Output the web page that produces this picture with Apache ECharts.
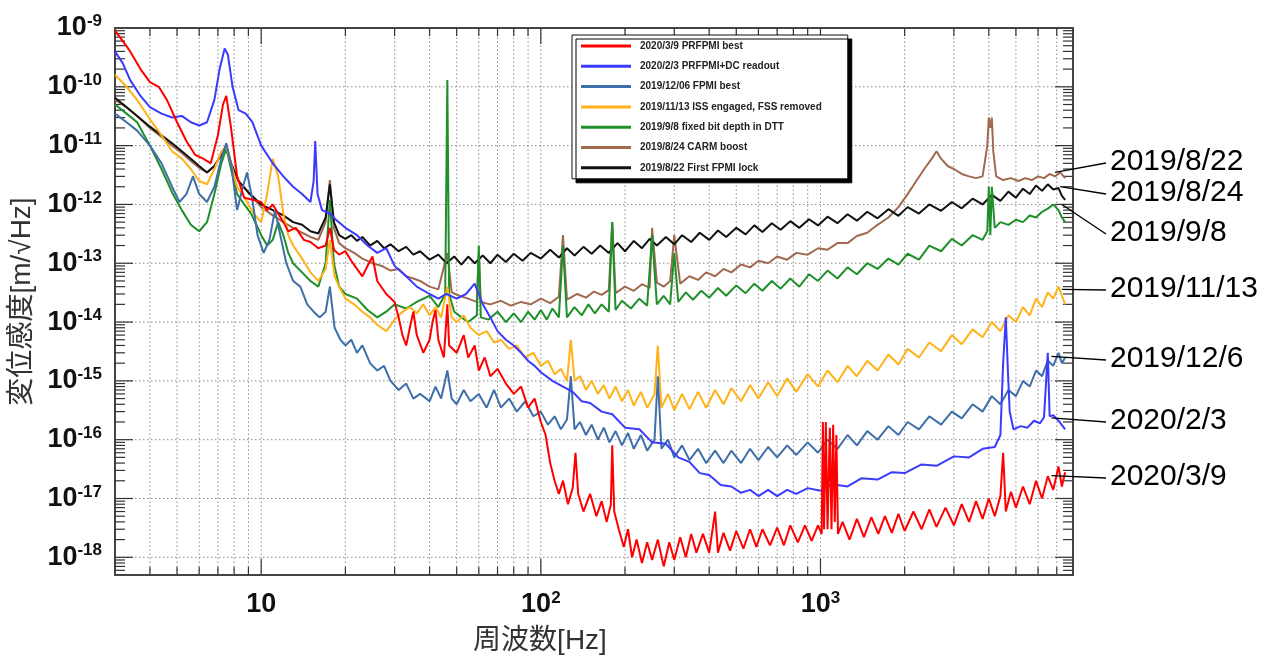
<!DOCTYPE html>
<html><head><meta charset="utf-8">
<script src="https://cdn.jsdelivr.net/npm/echarts@6/dist/echarts.min.js"></script>
<style>html,body{margin:0;padding:0;background:#fff}#c{width:1264px;height:660px}</style>
</head><body><div id="c"></div>
<script>
// ---- series names / colours ----
const seriesNames = ['2020/3/9 PRFPMI best','2020/2/3 PRFPMI+DC readout','2019/12/06 FPMI best','2019/11/13 ISS engaged, FSS removed','2019/9/8 fixed bit depth in DTT','2019/8/24 CARM boost','2019/8/22 First FPMI lock'];
const seriesColors = ['#ff0000','#3b3bff','#3f6fa8','#ffb21a','#1f8f2a','#a06a50','#111111'];

// ---- data: [frequency Hz, displacement m/rtHz] ----
const red = [[3,9e-10],[3.2,6e-10],[3.4,4e-10],[3.7,2e-10],[4,1.2e-10],[4.3,1e-10],[4.6,6e-11],[5,2.5e-11],[5.4,1.2e-11],[5.8,7e-12],[6.2,6e-12],[6.6,5e-12],[7,1.5e-11],[7.3,5e-11],[7.5,7e-11],[7.8,2e-11],[8.2,3e-12],[8.7,1.3e-12],[9.3,1.2e-12],[10,1.1e-12],[10.5,8e-13],[11,1e-12],[11.5,7e-13],[12,5e-13],[12.5,3.5e-13],[13.3,4e-13],[14.2,2.5e-13],[15,2.3e-13],[16,1.8e-13],[17,2e-13],[17.6,4e-13],[18.2,1.7e-13],[19,1.4e-13],[20,1.6e-13],[21,1.1e-13],[22,8e-14],[23,6e-14],[24,9e-14],[25,1.3e-13],[26,5e-14],[28,3e-14],[30,2.2e-14],[31,1.2e-14],[32,6e-15],[33,4e-15],[34,8e-15],[35,1.5e-14],[36,6e-15],[38,3e-15],[40,5e-15],[41,1e-14],[42,1.6e-14],[43,5e-15],[45,2.5e-15],[46.3,2e-14],[47,4e-15],[50,3e-15],[53,6e-15],[55,2.5e-15],[58,4e-15],[60,1.5e-15],[63,2.5e-15],[66,1.2e-15],[70,1.6e-15],[75,9e-16],[80,6e-16],[85,8e-16],[90,3.5e-16],[95,5e-16],[100,2e-16],[104,1.2e-16],[108,4e-17],[112,2e-17],[116,1.2e-17],[120,2e-17],[125,8e-18],[130,1.5e-17],[133,6e-17],[136,1.2e-17],[142,6e-18],[150,1.2e-17],[158,5e-18],[165,9e-18],[172,4e-18],[178,8e-18],[180,8e-17],[183,6e-18],[190,3e-18],[198,1.5e-18],[205,3e-18],[212,1e-18],[220,2e-18],[230,8e-19],[240,1.8e-18],[250,9e-19],[262,2e-18],[275,7e-19],[288,1.8e-18],[300,9e-19],[315,2.2e-18],[330,1e-18],[345,2.5e-18],[360,1.2e-18],[380,2.5e-18],[400,1.2e-18],[420,6e-18],[430,1.2e-18],[450,2.6e-18],[475,1.3e-18],[500,2.8e-18],[530,1.4e-18],[560,3e-18],[590,1.5e-18],[620,3e-18],[660,1.6e-18],[700,3.2e-18],[740,1.6e-18],[780,3.5e-18],[830,1.8e-18],[880,3.5e-18],[930,1.9e-18],[980,3.5e-18],[1010,2.5e-18],[1020,2e-16],[1030,3e-18],[1045,2e-16],[1060,3e-18],[1080,1.6e-16],[1095,3e-18],[1110,1.8e-16],[1125,4e-18],[1140,1.2e-16],[1155,2.5e-18],[1200,4e-18],[1270,2e-18],[1350,4.5e-18],[1430,2.2e-18],[1520,4.8e-18],[1610,2.5e-18],[1700,5e-18],[1800,2.6e-18],[1900,5.5e-18],[2000,2.8e-18],[2150,6e-18],[2300,3e-18],[2450,6.5e-18],[2600,3.3e-18],[2800,7e-18],[3000,3.5e-18],[3200,8e-18],[3400,4e-18],[3600,9e-18],[3800,4.5e-18],[4000,1e-17],[4200,5e-18],[4400,1.1e-17],[4500,6e-17],[4600,6e-18],[4800,1.3e-17],[5000,7e-18],[5300,1.6e-17],[5600,8e-18],[5900,2e-17],[6200,1e-17],[6500,2.4e-17],[6800,1.4e-17],[7100,3.5e-17],[7300,1.6e-17],[7500,2.8e-17]];

const blue = [[3,4e-10],[3.2,2.5e-10],[3.4,1.3e-10],[3.7,7e-11],[4,4.5e-11],[4.4,3.5e-11],[4.8,3e-11],[5.2,3.2e-11],[5.6,2.5e-11],[6,2.2e-11],[6.4,2.5e-11],[6.8,6e-11],[7.1,2e-10],[7.4,4.5e-10],[7.6,3.5e-10],[7.9,1e-10],[8.3,4e-11],[8.8,3.5e-11],[9.3,2.5e-11],[10,1e-11],[11,5e-12],[12,3e-12],[13,2e-12],[14,1.5e-12],[15,1.1e-12],[15.4,2.5e-12],[15.6,1.2e-11],[15.9,1.5e-12],[16.5,8e-13],[17.6,7e-13],[18.5,5.5e-13],[20,4e-13],[22,3e-13],[24,2e-13],[26,1.5e-13],[28,1.8e-13],[30,9e-14],[33,6e-14],[36,4e-14],[40,3e-14],[43,2.5e-14],[46,3e-14],[50,2.5e-14],[54,3e-14],[58,4.5e-14],[62,2e-14],[66,1.2e-14],[70,7e-15],[75,5e-15],[80,4e-15],[85,3e-15],[90,2.2e-15],[95,1.8e-15],[100,1.4e-15],[110,1e-15],[120,8e-16],[130,6.5e-16],[140,4.5e-16],[150,4.2e-16],[165,3e-16],[180,2.7e-16],[200,1.6e-16],[225,1.5e-16],[250,9e-17],[280,8.5e-17],[310,5e-17],[340,4.2e-17],[370,2.7e-17],[400,2.5e-17],[440,1.7e-17],[480,1.6e-17],[520,1.25e-17],[560,1.4e-17],[600,1.1e-17],[650,1.4e-17],[700,1.1e-17],[760,1.4e-17],[820,1.2e-17],[900,1.5e-17],[1000,1.35e-17],[1100,1.75e-17],[1250,1.6e-17],[1400,2.2e-17],[1600,2.1e-17],[1800,2.8e-17],[2000,2.7e-17],[2300,3.8e-17],[2600,3.6e-17],[3000,5.2e-17],[3400,5e-17],[3800,7e-17],[4200,7.5e-17],[4400,1.2e-16],[4500,2e-15],[4600,1.2e-14],[4680,1.5e-15],[4750,3e-16],[4900,1.5e-16],[5200,1.7e-16],[5500,1.6e-16],[5800,2.1e-16],[6100,1.9e-16],[6300,2.4e-16],[6500,3e-15],[6600,2.5e-16],[6800,2.6e-16],[7100,2.1e-16],[7500,1.5e-16]];

const steel = [[3,3.5e-11],[3.3,2.5e-11],[3.6,1.8e-11],[4,1e-11],[4.4,5e-12],[4.8,2e-12],[5.1,1.1e-12],[5.4,1.5e-12],[5.7,3e-12],[6,1.5e-12],[6.4,1.1e-12],[6.8,2e-12],[7.2,6e-12],[7.5,1.1e-11],[7.8,5e-12],[8.2,8e-13],[8.6,2e-12],[8.9,3.5e-12],[9.3,1.2e-12],[9.7,3e-13],[10.2,1.5e-13],[10.7,2.5e-13],[11.2,8e-13],[11.7,3e-13],[12.3,1e-13],[13,5e-14],[13.8,4e-14],[14.6,2e-14],[15.4,1.5e-14],[16.2,1.2e-14],[17,1.5e-14],[17.6,4e-14],[18.3,8e-15],[19.2,5e-15],[20,4e-15],[21,5e-15],[22,3e-15],[23,4e-15],[24.5,2e-15],[26,1.5e-15],[27.5,1.8e-15],[29,1e-15],[31,7e-16],[33,9e-16],[35,5e-16],[37,6e-16],[40,4.5e-16],[42,8e-16],[44,5e-16],[46.3,1.5e-15],[48,5e-16],[50,4e-16],[53,7e-16],[56,4.5e-16],[60,6e-16],[64,3.5e-16],[68,7e-16],[72,3.5e-16],[77,5e-16],[82,3e-16],[88,4.5e-16],[94,2.5e-16],[100,3e-16],[106,1.8e-16],[112,2.5e-16],[118,1.5e-16],[124,2.2e-16],[128,1.2e-15],[132,1.5e-16],[138,2e-16],[145,1.2e-16],[152,1.8e-16],[160,1e-16],[168,1.6e-16],[176,9e-17],[185,1.4e-16],[195,8e-17],[205,1.3e-16],[215,7e-17],[228,1.2e-16],[240,6.5e-17],[255,1e-16],[262,1.2e-15],[270,7e-17],[285,1e-16],[300,5e-17],[320,8e-17],[340,4.5e-17],[365,7e-17],[390,4e-17],[420,6.5e-17],[450,4e-17],[480,6.5e-17],[520,4e-17],[560,7e-17],[600,4.5e-17],[650,7.5e-17],[700,5e-17],[760,8e-17],[820,5.5e-17],[900,9e-17],[980,6e-17],[1060,1e-16],[1150,7e-17],[1250,1.2e-16],[1350,8e-17],[1470,1.4e-16],[1600,1e-16],[1750,1.7e-16],[1900,1.2e-16],[2050,2e-16],[2250,1.5e-16],[2450,2.5e-16],[2700,1.8e-16],[2950,3e-16],[3200,2.3e-16],[3500,4e-16],[3800,3e-16],[4100,5.5e-16],[4400,4e-16],[4700,7e-16],[5000,5.5e-16],[5300,1e-15],[5600,8e-16],[5900,1.5e-15],[6200,1.2e-15],[6500,2.2e-15],[6800,1.8e-15],[7100,3e-15],[7300,2e-15],[7500,2.5e-15]];

const yellow = [[3,1.6e-10],[3.3,1e-10],[3.6,6e-11],[4,2.8e-11],[4.4,1.5e-11],[4.8,8e-12],[5.2,6e-12],[5.6,4e-12],[6,2.5e-12],[6.4,2.2e-12],[6.8,4e-12],[7.2,8e-12],[7.5,1e-11],[7.8,5e-12],[8.2,2e-12],[8.8,1.2e-12],[9.4,7e-13],[10,5e-13],[10.5,1.5e-12],[11,6e-12],[11.5,3e-12],[12,7e-13],[12.5,3e-13],[13,2e-13],[14,1.2e-13],[15,7e-14],[16,5e-14],[17,8e-14],[17.6,2.5e-13],[18.3,6e-14],[19,4e-14],[20,2.5e-14],[21.5,2e-14],[23,1.5e-14],[24.5,1.2e-14],[26,9e-15],[28,7e-15],[30,1.1e-14],[32,1.5e-14],[34,1.8e-14],[36,1.4e-14],[38,2e-14],[40,1.3e-14],[42,1.8e-14],[44,1.2e-14],[46.3,4e-14],[48,1.2e-14],[50,1e-14],[53,1.3e-14],[56,8e-15],[60,6e-15],[64,7e-15],[68,4.5e-15],[72,5e-15],[77,3.5e-15],[82,4e-15],[88,2.5e-15],[94,3e-15],[100,1.8e-15],[106,2.2e-15],[112,1.3e-15],[118,1.6e-15],[124,1e-15],[128,5e-15],[132,1e-15],[138,1.2e-15],[145,7e-16],[152,1e-15],[160,6e-16],[168,8.5e-16],[176,5e-16],[185,8e-16],[195,4.5e-16],[205,7e-16],[215,3.8e-16],[228,6.5e-16],[240,3.5e-16],[255,6e-16],[262,4e-15],[270,3.5e-16],[285,6e-16],[300,3.2e-16],[320,6e-16],[340,3.3e-16],[365,6.5e-16],[390,3.5e-16],[420,7e-16],[450,4e-16],[480,7.5e-16],[520,4.5e-16],[560,8.5e-16],[600,5e-16],[650,9.5e-16],[700,5.5e-16],[760,1.1e-15],[820,6.5e-16],[900,1.3e-15],[980,8e-16],[1060,1.5e-15],[1150,9.5e-16],[1250,1.8e-15],[1350,1.2e-15],[1470,2.2e-15],[1600,1.5e-15],[1750,2.8e-15],[1900,1.9e-15],[2050,3.5e-15],[2250,2.5e-15],[2450,4.5e-15],[2700,3.2e-15],[2950,6e-15],[3200,4.2e-15],[3500,7.5e-15],[3800,5.5e-15],[4100,1e-14],[4400,7e-15],[4700,1.3e-14],[5000,1e-14],[5300,1.8e-14],[5600,1.3e-14],[5900,2.5e-14],[6200,1.8e-14],[6500,3.2e-14],[6800,2.5e-14],[7100,4e-14],[7300,2.8e-14],[7500,2e-14]];

const green = [[3,5e-11],[3.3,3.5e-11],[3.6,2.5e-11],[4,1e-11],[4.4,4e-12],[4.8,1.6e-12],[5.2,8e-13],[5.6,4.5e-13],[6,3.5e-13],[6.4,5e-13],[6.8,1.5e-12],[7.2,5e-12],[7.5,9e-12],[7.8,4e-12],[8.2,1.5e-12],[8.7,1e-12],[9.2,7e-13],[10,3e-13],[10.5,2e-13],[11,2.5e-13],[11.5,5e-13],[12,3e-13],[12.5,1.5e-13],[13,1e-13],[14,7e-14],[15,5e-14],[16,4e-14],[17,1e-13],[17.6,1.2e-12],[18.2,1e-13],[19,4e-14],[20,3e-14],[22,2.5e-14],[24,1.6e-14],[26,1.2e-14],[28,1.5e-14],[30,2e-14],[33,1.7e-14],[36,2.2e-14],[40,2.8e-14],[43,1.8e-14],[45.5,3e-14],[46.3,1.3e-10],[47,3e-14],[49,1.5e-14],[52,1.2e-14],[55,1e-14],[59,1.3e-14],[60,2e-13],[61,1.2e-14],[65,1.1e-14],[70,1.5e-14],[75,1e-14],[80,1.4e-14],[85,1e-14],[90,1.5e-14],[95,1.1e-14],[100,1.6e-14],[105,1.1e-14],[110,1.7e-14],[116,1.2e-14],[120,2e-13],[124,1.2e-14],[132,1.8e-14],[140,1.3e-14],[148,2e-14],[156,1.4e-14],[165,2e-14],[175,1.5e-14],[180,5e-13],[185,1.6e-14],[195,2.3e-14],[210,1.7e-14],[225,2.5e-14],[240,1.9e-14],[250,3e-13],[260,2e-14],[275,2.8e-14],[290,2e-14],[300,1.5e-13],[310,2.2e-14],[330,3.2e-14],[350,2.4e-14],[375,3.4e-14],[400,2.6e-14],[430,3.8e-14],[460,2.8e-14],[500,4.2e-14],[540,3.1e-14],[580,4.5e-14],[620,3.4e-14],[670,5e-14],[720,3.7e-14],[780,5.5e-14],[840,4e-14],[910,6.5e-14],[980,5e-14],[1060,7.5e-14],[1150,5.5e-14],[1250,8.5e-14],[1350,6.5e-14],[1470,1e-13],[1600,8e-14],[1750,1.2e-13],[1900,9.5e-14],[2050,1.45e-13],[2250,1.15e-13],[2450,2e-13],[2700,1.6e-13],[2950,2.6e-13],[3200,2e-13],[3500,3e-13],[3800,2.5e-13],[3950,3.5e-13],[4000,2e-12],[4050,3e-13],[4100,2e-12],[4200,4e-13],[4400,5e-13],[4700,4.5e-13],[5000,5.5e-13],[5300,5e-13],[5600,6.5e-13],[5900,6e-13],[6200,7.5e-13],[6500,8.5e-13],[6800,1e-12],[7100,8e-13],[7300,6e-13],[7500,5e-13]];

const brown = [[3,6e-11],[3.3,4.5e-11],[3.6,3.2e-11],[4,2e-11],[4.4,1.4e-11],[4.8,1e-11],[5.2,7.5e-12],[5.6,5.5e-12],[6,4.2e-12],[6.4,3.5e-12],[6.8,4.5e-12],[7.2,7e-12],[7.5,9e-12],[7.8,5e-12],[8.3,2.5e-12],[9,1.6e-12],[10,9e-13],[11,6.5e-13],[12,5e-13],[13,4e-13],[14,3.3e-13],[15,2.8e-13],[16,2.5e-13],[17,5e-13],[17.6,2.6e-12],[18.2,4e-13],[19,2.2e-13],[20,1.8e-13],[21.5,1.5e-13],[23,1.2e-13],[25,1e-13],[27,9e-14],[29,7.5e-14],[31,8e-14],[33,6e-14],[35,5.5e-14],[37,5e-14],[40,4e-14],[43,3.6e-14],[46.3,1.5e-13],[48,3.2e-14],[51,2.8e-14],[55,2.5e-14],[59,2.2e-14],[60,1.5e-13],[61,2.2e-14],[66,2e-14],[72,2.3e-14],[78,1.9e-14],[85,2.2e-14],[92,2e-14],[100,2.5e-14],[108,2.1e-14],[116,2.7e-14],[120,3e-13],[124,2.4e-14],[135,3e-14],[145,2.6e-14],[155,3.3e-14],[165,2.9e-14],[175,3.5e-14],[180,5e-13],[185,3.1e-14],[200,4e-14],[215,3.4e-14],[230,4.4e-14],[245,3.8e-14],[250,4e-13],[260,4.7e-14],[275,4e-14],[290,5e-14],[300,3e-13],[315,4.5e-14],[340,6e-14],[365,5.2e-14],[390,7e-14],[420,6e-14],[450,8e-14],[480,7e-14],[520,9.5e-14],[560,8.5e-14],[600,1.1e-13],[650,1e-13],[700,1.3e-13],[760,1.15e-13],[820,1.5e-13],[900,1.4e-13],[980,1.8e-13],[1060,1.7e-13],[1150,2.2e-13],[1250,2.2e-13],[1350,2.9e-13],[1470,3.3e-13],[1600,4.5e-13],[1750,6e-13],[1900,9e-13],[2050,1.5e-12],[2200,2.5e-12],[2350,4e-12],[2500,6e-12],[2600,8e-12],[2700,6e-12],[2850,4.5e-12],[3000,4e-12],[3200,3.3e-12],[3400,3e-12],[3600,2.8e-12],[3800,3e-12],[3950,1e-11],[4000,3e-11],[4050,2e-11],[4100,3e-11],[4150,8e-12],[4250,3e-12],[4500,2.6e-12],[4800,2.8e-12],[5100,2.5e-12],[5400,2.8e-12],[5700,2.6e-12],[6000,3e-12],[6300,2.8e-12],[6600,3.3e-12],[6900,3e-12],[7200,3.5e-12],[7500,2.8e-12]];

const black = [[3,6.5e-11],[3.3,4.5e-11],[3.6,3.2e-11],[4,2.1e-11],[4.4,1.5e-11],[4.8,1.1e-11],[5.2,8e-12],[5.6,6e-12],[6,4.5e-12],[6.4,3.5e-12],[6.8,4.5e-12],[7.2,7e-12],[7.5,9e-12],[7.8,5e-12],[8.3,2.5e-12],[9,1.6e-12],[10,1e-12],[11,8e-13],[12,6.5e-13],[13,5e-13],[14,4.5e-13],[15,3.5e-13],[16,3.2e-13],[17,6e-13],[17.6,2.2e-12],[18.2,5e-13],[19,3e-13],[20,2.6e-13],[21,3e-13],[22,2.4e-13],[23,2.8e-13],[24.5,2e-13],[26,2.4e-13],[27.5,1.8e-13],[29,2.1e-13],[31,1.6e-13],[33,1.9e-13],[35,1.4e-13],[37,1.6e-13],[40,1.15e-13],[43,1.4e-13],[46,1e-13],[49,1.3e-13],[52,9.5e-14],[55,1.3e-13],[58,1e-13],[62,1.35e-13],[66,1e-13],[70,1.4e-13],[75,1.05e-13],[80,1.45e-13],[86,1.1e-13],[92,1.5e-13],[100,1.2e-13],[108,1.7e-13],[116,1.25e-13],[124,1.8e-13],[132,1.35e-13],[142,1.9e-13],[152,1.45e-13],[163,2e-13],[175,1.5e-13],[188,2.2e-13],[200,1.6e-13],[215,2.4e-13],[230,1.8e-13],[245,2.6e-13],[260,2e-13],[280,2.8e-13],[300,2.1e-13],[320,3e-13],[345,2.3e-13],[370,3.3e-13],[400,2.5e-13],[430,3.6e-13],[460,2.8e-13],[500,4e-13],[540,3.1e-13],[580,4.4e-13],[620,3.4e-13],[670,4.8e-13],[720,3.7e-13],[780,5.2e-13],[840,4e-13],[910,5.6e-13],[980,4.4e-13],[1060,6.2e-13],[1150,4.8e-13],[1250,6.8e-13],[1350,5.3e-13],[1470,7.5e-13],[1600,5.8e-13],[1750,8.3e-13],[1900,6.4e-13],[2050,9e-13],[2250,7e-13],[2450,1e-12],[2700,7.8e-13],[2950,1.1e-12],[3200,8.6e-13],[3500,1.25e-12],[3800,1e-12],[4100,1.45e-12],[4400,1.15e-12],[4700,1.65e-12],[5000,1.3e-12],[5300,1.85e-12],[5600,1.5e-12],[5900,2.1e-12],[6200,1.7e-12],[6500,2.2e-12],[6800,1.8e-12],[7100,1.9e-12],[7300,1.4e-12],[7500,1.2e-12]];

// ---- axes ----
const xRange = [3, 8000];
const yRange = [5e-19, 1e-9];
const xDecades = [1, 10, 100, 1000];
const yDecades = [1e-19,1e-18,1e-17,1e-16,1e-15,1e-14,1e-13,1e-12,1e-11,1e-10,1e-9];
const xTitle = '周波数[Hz]';
const yTitle = '変位感度[m/√Hz]';

// ---- right-side annotations ----
const annoLabels = ['2019/8/22','2019/8/24','2019/9/8','2019/11/13','2019/12/6','2020/2/3','2020/3/9'];
const annoAnchors = [[6900,3.5e-12],[7200,2e-12],[7300,1e-12],[7300,3.6e-14],[6700,2.6e-15],[6700,2.35e-16],[6700,2.45e-17]];
const annoTextY = [162,193,233,289,359,421,477];

const seriesData = [red, blue, steel, yellow, green, brown, black];
const drawOrder = [5, 6, 4, 3, 2, 1, 0];

function inRange(v, r){ return v > r[0]*1.0001 && v < r[1]*0.9999; }
function ticks(decades, r, major){
  const out = [];
  decades.forEach(d => {
    if (major) { if (inRange(d, r)) out.push(d); }
    else for (let k = 2; k <= 9; k++) { const v = k*d; if (inRange(v, r)) out.push(v); }
  });
  return out;
}
const xMajor = ticks(xDecades, xRange, true), xMinor = ticks(xDecades, xRange, false);
const yMajor = ticks(yDecades, yRange, true), yMinor = ticks(yDecades, yRange, false);

function supLabel(v){
  const e = Math.log10(v), r = Math.round(e);
  if (Math.abs(e - r) > 1e-6) return '';
  if (r === 1) return '{b|10}';
  return '{b|10}{s|' + r + '}';
}
const LAT = '"Liberation Sans", Arial, sans-serif';
const richLab = {
  b: {fontSize: 27, fontWeight: 'bold', lineHeight: 30, fontFamily: LAT, color: '#111'},
  s: {fontSize: 17, fontWeight: 'bold', lineHeight: 17, verticalAlign: 'top', fontFamily: LAT, color: '#111'}
};

function renderFrame(params, api){
  const ch = [];
  const c = (x, y) => api.coord([x, y]);
  const grid = {stroke: '#8a8a8a', lineWidth: 1, lineDash: [1.5, 2.5]};
  const tick = {stroke: '#333', lineWidth: 1.2};
  const line = (p, q, st) => ch.push({type: 'line', shape: {x1: p[0], y1: p[1], x2: q[0], y2: q[1]}, style: st});
  const bl = c(xRange[0], yRange[0]), tr = c(xRange[1], yRange[1]);
  xMajor.concat(xMinor).forEach(x => { const a = c(x, yRange[0]), b = c(x, yRange[1]); line(a, b, grid); });
  yMajor.forEach(y => { const a = c(xRange[0], y), b = c(xRange[1], y); line(a, b, grid); });
  xMajor.forEach(x => { const p = c(x, yRange[0])[0]; line([p, bl[1]], [p, bl[1]-16], tick); line([p, tr[1]], [p, tr[1]+16], tick); });
  xMinor.forEach(x => { const p = c(x, yRange[0])[0]; line([p, bl[1]], [p, bl[1]-8], tick); line([p, tr[1]], [p, tr[1]+8], tick); });
  yMajor.forEach(y => { const p = c(xRange[0], y)[1]; line([bl[0], p], [bl[0]+18, p], tick); line([tr[0], p], [tr[0]-18, p], tick); });
  yMinor.forEach(y => { const p = c(xRange[0], y)[1]; line([bl[0], p], [bl[0]+10, p], tick); line([tr[0], p], [tr[0]-10, p], tick); });
  return {type: 'group', children: ch};
}

const axisLineStyle = {show: true, lineStyle: {color: '#444', width: 2}};
const series = [{
  type: 'custom', name: 'frame', silent: true, z: 1,
  xAxisIndex: 0, yAxisIndex: 0, data: [[10, 1e-12]],
  renderItem: renderFrame, animation: false
}];
drawOrder.forEach(i => series.push({
  type: 'line', name: seriesNames[i], data: seriesData[i], color: seriesColors[i],
  showSymbol: false, symbol: 'none', z: 3,
  lineStyle: {width: 2, color: seriesColors[i]}, animation: false
}));

const option = {
  backgroundColor: '#fff',
  animation: false,
  grid: {left: 115, right: 191, top: 28, bottom: 82},
  xAxis: [
    {type: 'log', logBase: 10, min: xRange[0], max: xRange[1], position: 'bottom',
     axisLine: axisLineStyle, axisTick: {show: false}, splitLine: {show: false}, minorSplitLine: {show: false},
     axisLabel: {formatter: supLabel, rich: richLab, margin: 15},
     name: xTitle, nameLocation: 'middle', nameGap: 52,
     nameTextStyle: {fontSize: 28, color: '#333', fontFamily: '"Liberation Sans", "Noto Sans CJK JP", sans-serif', padding: [0, 108, 0, 0]}},
    {type: 'log', logBase: 10, min: xRange[0], max: xRange[1], position: 'top',
     axisLine: axisLineStyle, axisTick: {show: false}, splitLine: {show: false}, axisLabel: {show: false}}
  ],
  yAxis: [
    {type: 'log', logBase: 10, min: yRange[0], max: yRange[1], position: 'left',
     axisLine: axisLineStyle, axisTick: {show: false}, splitLine: {show: false},
     axisLabel: {formatter: supLabel, rich: richLab, margin: 13},
     name: yTitle, nameLocation: 'middle', nameGap: 76,
     nameTextStyle: {fontSize: 28, color: '#333', fontFamily: '"Liberation Sans", "Noto Sans CJK JP", sans-serif'}},
    {type: 'log', logBase: 10, min: yRange[0], max: yRange[1], position: 'right',
     axisLine: axisLineStyle, axisTick: {show: false}, splitLine: {show: false}, axisLabel: {show: false}}
  ],
  legend: {
    data: seriesNames, orient: 'vertical', left: 572, top: 35,
    itemWidth: 50, itemHeight: 3, icon: 'rect', itemGap: 8.3,
    padding: [5, 26, 5, 9], selectedMode: false,
    backgroundColor: '#fff', borderColor: '#111', borderWidth: 1,
    shadowColor: '#000', shadowOffsetX: 4, shadowOffsetY: 4, shadowBlur: 0,
    textStyle: {fontSize: 10, fontWeight: 'bold', color: '#222', fontFamily: LAT, lineHeight: 12, padding: [0, 0, 0, 4]}
  },
  series: series
};

const chart = echarts.init(document.getElementById('c'), null, {renderer: 'canvas'});
chart.setOption(option);

const gfx = [];
annoLabels.forEach((t, i) => {
  const p = chart.convertToPixel({xAxisIndex: 0, yAxisIndex: 0}, annoAnchors[i]);
  gfx.push({type: 'line', z: 100, shape: {x1: p[0], y1: p[1], x2: 1106, y2: annoTextY[i] + 1}, style: {stroke: '#000', lineWidth: 1.3}});
  gfx.push({type: 'text', z: 100, x: 1110, y: annoTextY[i], style: {text: t, font: '30px "Liberation Sans", Arial, sans-serif', fill: '#000', verticalAlign: 'middle', align: 'left'}});
});
chart.setOption({graphic: gfx});
</script>
</body></html>
